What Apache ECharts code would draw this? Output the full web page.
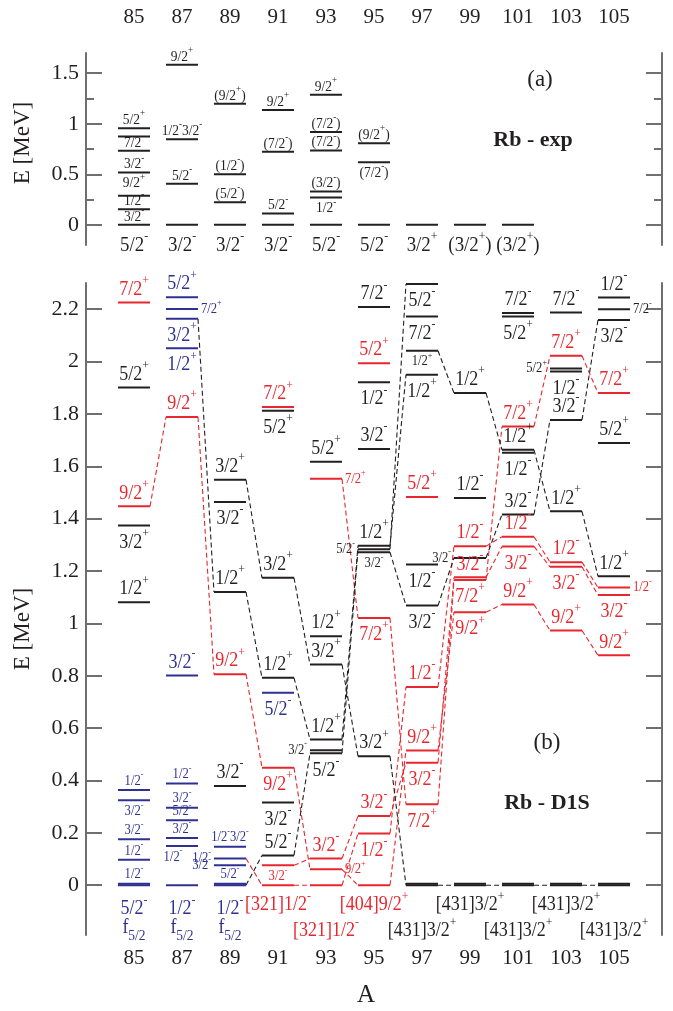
<!DOCTYPE html>
<html><head><meta charset="utf-8">
<script src="https://cdn.jsdelivr.net/npm/echarts@6/dist/echarts.min.js"></script>
<style>html,body{margin:0;padding:0;background:#fff}#c{width:673px;height:1011px}</style>
</head><body><div id="c"></div>
<script>
// ---------------- data ----------------
const massNumbers = [85, 87, 89, 91, 93, 95, 97, 99, 101, 103, 105];
const expTicks = [0, 0.5, 1, 1.5];
const expMinorTicks = [0.25, 0.75, 1.25];
const d1sTicks = [0, 0.2, 0.4, 0.6, 0.8, 1, 1.2, 1.4, 1.6, 1.8, 2, 2.2];

// panel (a): experimental levels [A, E]
const expLevels = [
  [85,0],[85,0.155],[85,0.287],[85,0.518],[85,0.732],[85,0.874],[85,0.956],
  [87,0],[87,0.406],[87,0.847],[87,1.583],
  [89,0],[89,0.224],[89,0.501],[89,1.197],
  [91,0],[91,0.112],[91,0.722],[91,1.137],
  [93,0],[93,0.270],[93,0.330],[93,0.735],[93,0.917],[93,1.286],
  [95,0],[95,0.620],[95,0.808],
  [97,0],[99,0],[101,0]
];
// labels [A, E of level, text, side]
const expLabels = [
  [85,0.956,'5/2^+','a'],[85,0.732,'7/2^-','a'],[85,0.518,'3/2^-','a'],[85,0.518,'9/2^+','b'],
  [85,0.155,'1/2^-','a'],[85,0,'3/2^-','a'],[85,0,'5/2^-','g'],
  [87,1.583,'9/2^+','a'],[87,0.847,'1/2^-3/2^-','a'],[87,0.406,'5/2^-','a'],[87,0,'3/2^-','g'],
  [89,1.197,'(9/2^+)','a'],[89,0.501,'(1/2^-)','a'],[89,0.224,'(5/2^-)','a'],[89,0,'3/2^-','g'],
  [91,1.137,'9/2^+','a'],[91,0.722,'(7/2^-)','a'],[91,0.112,'5/2^-','a'],[91,0,'3/2^-','g'],
  [93,1.286,'9/2^+','a'],[93,0.917,'(7/2^-)','a'],[93,0.735,'(7/2^-)','a'],[93,0.330,'(3/2^-)','a'],
  [93,0.270,'1/2^-','b'],[93,0,'5/2^-','g'],
  [95,0.808,'(9/2^+)','a'],[95,0.620,'(7/2^-)','b'],[95,0,'5/2^-','g'],
  [97,0,'3/2^+','g'],[99,0,'(3/2^+)','g'],[101,0,'(3/2^+)','g']
];

// panel (b): D1S levels [A, E, colour group]
const d1sLevels = [
  [85,2.226,'r'],[85,1.901,'k'],[85,1.447,'r'],[85,1.374,'k'],[85,1.081,'k'],
  [85,0.364,'b'],[85,0.325,'b'],[85,0.176,'b'],[85,0.097,'b'],[85,0,'b'],[85,0.006,'b'],
  [87,2.246,'b'],[87,2.201,'b'],[87,2.163,'b'],[87,2.051,'b'],[87,1.788,'r'],[87,0.801,'b'],
  [87,0.389,'b'],[87,0.296,'b'],[87,0.248,'b'],[87,0.180,'b'],[87,0.150,'b'],[87,0,'b'],
  [89,1.549,'k'],[89,1.464,'k'],[89,1.120,'k'],[89,0.806,'r'],[89,0.379,'k'],
  [89,0.147,'b'],[89,0.102,'b'],[89,0.076,'b'],[89,0,'b'],[89,0.006,'b'],
  [91,1.826,'r'],[91,1.812,'k'],[91,1.174,'k'],[91,0.792,'k'],[91,0.735,'b'],[91,0.449,'r'],
  [91,0.316,'k'],[91,0.114,'k'],[91,0.076,'r'],[91,0,'r'],
  [93,1.617,'k'],[93,1.552,'r'],[93,0.951,'k'],[93,0.843,'k'],[93,0.557,'k'],[93,0.516,'k'],
  [93,0.504,'k'],[93,0.102,'r'],[93,0.061,'r'],[93,0,'r'],
  [95,2.208,'k'],[95,1.994,'r'],[95,1.921,'k'],[95,1.666,'k'],[95,1.297,'k'],[95,1.283,'k'],
  [95,1.272,'k'],[95,1.021,'r'],[95,0.493,'k'],[95,0.264,'r'],[95,0.198,'r'],[95,0,'r'],
  [97,2.296,'k'],[97,2.172,'k'],[97,2.041,'k'],[97,1.950,'k'],[97,1.483,'r'],[97,1.225,'k'],
  [97,1.068,'k'],[97,0.757,'r'],[97,0.515,'r'],[97,0.468,'r'],[97,0.309,'r'],[97,0,'k'],[97,0.006,'k'],
  [99,1.880,'k'],[99,1.479,'k'],[99,1.295,'r'],[99,1.250,'k'],[99,1.176,'r'],[99,1.166,'r'],
  [99,1.043,'r'],[99,0,'k'],[99,0.006,'k'],
  [101,2.185,'k'],[101,2.172,'k'],[101,1.752,'r'],[101,1.663,'k'],[101,1.652,'k'],[101,1.416,'k'],
  [101,1.331,'r'],[101,1.294,'r'],[101,1.072,'r'],[101,0,'k'],[101,0.006,'k'],
  [103,2.187,'k'],[103,2.022,'r'],[103,1.973,'k'],[103,1.962,'k'],[103,1.777,'k'],[103,1.428,'k'],
  [103,1.234,'r'],[103,1.216,'r'],[103,0.973,'r'],[103,0,'k'],[103,0.006,'k'],
  [105,2.245,'k'],[105,2.200,'k'],[105,2.159,'k'],[105,1.880,'r'],[105,1.689,'k'],[105,1.180,'k'],
  [105,1.137,'r'],[105,1.108,'r'],[105,0.878,'r'],[105,0,'k'],[105,0.006,'k']
];
// dashed connections [A1, E1, A2, E2, colour group]
const d1sLinks = [
  [85,1.447,87,1.788,'r'],[87,1.788,89,0.806,'r'],[89,0.806,91,0.449,'r'],[91,0.449,93,0.061,'r'],
  [93,0.061,95,0,'r'],[95,0,97,0.515,'r'],[97,0.515,99,1.043,'r'],[99,1.043,101,1.072,'r'],
  [101,1.072,103,0.973,'r'],[103,0.973,105,0.878,'r'],
  [89,0.102,91,0,'r'],[91,0,93,0,'r'],[93,0,95,0.198,'r'],[95,0.198,97,0.757,'r'],
  [97,0.757,99,1.295,'r'],[99,1.295,101,1.331,'r'],[101,1.331,103,1.234,'r'],[103,1.234,105,1.137,'r'],
  [91,0.076,93,0.102,'r'],[93,0.102,95,0.264,'r'],[95,0.264,97,0.468,'r'],[97,0.468,99,1.176,'r'],
  [99,1.176,101,1.294,'r'],[101,1.294,103,1.216,'r'],[103,1.216,105,1.108,'r'],
  [93,1.552,95,1.021,'r'],[95,1.021,97,0.309,'r'],[97,0.309,99,1.166,'r'],[99,1.166,101,1.752,'r'],
  [101,1.752,103,2.022,'r'],[103,2.022,105,1.880,'r'],
  [87,2.163,89,1.120,'k'],[89,1.120,91,0.792,'k'],[91,0.792,93,0.557,'k'],[93,0.557,95,1.297,'k'],
  [95,1.297,97,1.950,'k'],
  [89,1.549,91,1.174,'k'],[91,1.174,93,0.843,'k'],[93,0.843,95,0.493,'k'],[95,0.493,97,0,'k'],
  [97,0,99,0,'k'],[99,0,101,0,'k'],[101,0,103,0,'k'],[103,0,105,0,'k'],
  [89,0,91,0.114,'k'],[91,0.114,93,0.504,'k'],[93,0.504,95,1.283,'k'],[95,1.283,97,2.296,'k'],
  [95,1.272,97,1.068,'k'],[97,1.068,99,1.250,'k'],[99,1.250,101,1.416,'k'],[101,1.416,103,1.777,'k'],
  [103,1.777,105,2.159,'k'],
  [97,2.041,99,1.880,'k'],[99,1.880,101,1.663,'k'],[101,1.663,103,1.428,'k'],[103,1.428,105,1.180,'k']
];
// labels [A, E of level, text, side, dx]
const d1sLabels = [
  [85,2.226,'7/2^+','a'],[85,1.901,'5/2^+','a'],[85,1.447,'9/2^+','a'],[85,1.374,'3/2^+','b'],
  [85,1.081,'1/2^+','a'],[85,0.364,'1/2^-','as'],[85,0.325,'3/2^-','bs'],[85,0.176,'3/2^-','as'],
  [85,0.097,'1/2^-','as'],[85,0.006,'1/2^-','as'],[85,0,'5/2^-','gb'],[85,0,'f_{5/2}','gf'],
  [87,2.246,'5/2^+','a'],[87,2.201,'7/2^+','rs'],[87,2.163,'3/2^+','b'],[87,2.051,'1/2^+','b'],
  [87,1.788,'9/2^+','a'],[87,0.801,'3/2^-','a'],[87,0.389,'1/2^-','as'],[87,0.296,'3/2^-','as'],
  [87,0.248,'5/2^-','as'],[87,0.180,'3/2^-','as'],[87,0.150,'1/2^-','bs',-9],
  [87,0,'1/2^-','gb'],[87,0,'f_{5/2}','gf'],
  [89,1.549,'3/2^+','a'],[89,1.464,'3/2^-','b'],[89,1.120,'1/2^+','a'],[89,0.806,'9/2^+','a'],
  [89,0.379,'3/2^-','a'],[89,0.147,'1/2^-3/2^-','as'],[89,0.102,'1/2^-','ls'],[89,0.076,'3/2^-','ls'],
  [89,0.006,'5/2^-','as'],[89,0,'1/2^-','gb'],[89,0,'f_{5/2}','gf'],
  [91,1.826,'7/2^+','a'],[91,1.812,'5/2^+','b'],[91,1.174,'3/2^+','a'],[91,0.792,'1/2^+','a'],
  [91,0.735,'5/2^-','b'],[91,0.449,'9/2^+','b'],[91,0.316,'3/2^-','b'],[91,0.114,'5/2^-','a'],
  [91,0.076,'3/2^-','bs'],[91,0,'[321]1/2^-','g1'],
  [93,1.617,'5/2^+','a'],[93,1.552,'7/2^+','rs'],[93,0.951,'1/2^+','a'],[93,0.843,'3/2^+','a'],
  [93,0.557,'1/2^+','a'],[93,0.516,'3/2^-','ls'],[93,0.504,'5/2^-','b'],[93,0.102,'3/2^-','a'],
  [93,0.061,'9/2^+','rs'],[93,0,'[321]1/2^-','g2'],
  [95,2.208,'7/2^-','a'],[95,1.994,'5/2^+','a'],[95,1.921,'1/2^-','b'],[95,1.666,'3/2^-','a'],
  [95,1.297,'1/2^+','a'],[95,1.283,'5/2^-','ls'],[95,1.272,'3/2^-','bs'],[95,1.021,'7/2^+','b'],
  [95,0.493,'3/2^+','a'],[95,0.264,'3/2^-','a'],[95,0.198,'1/2^-','b'],[95,0,'[404]9/2^+','g1'],
  [97,2.296,'5/2^-','b'],[97,2.172,'7/2^-','b'],[97,2.041,'1/2^+','bs'],[97,1.950,'1/2^+','b'],
  [97,1.483,'5/2^+','a'],[97,1.225,'1/2^-','b'],[97,1.068,'3/2^-','b'],[97,0.757,'1/2^-','a'],
  [97,0.515,'9/2^+','a'],[97,0.468,'3/2^-','b'],[97,0.309,'7/2^+','b'],[97,0,'[431]3/2^+','g2'],
  [99,1.880,'1/2^+','a'],[99,1.479,'1/2^-','a'],[99,1.295,'1/2^-','a'],[99,1.250,'3/2^-','ls'],
  [99,1.176,'3/2^-','a'],[99,1.166,'7/2^+','b'],[99,1.043,'9/2^+','b'],[99,0,'[431]3/2^+','g1'],
  [101,2.185,'7/2^-','a'],[101,2.172,'5/2^+','b'],[101,1.752,'7/2^+','a'],[101,1.663,'1/2^+','a'],
  [101,1.652,'1/2^-','b'],[101,1.416,'3/2^-','a'],[101,1.331,'1/2^-','a'],[101,1.294,'3/2^-','b'],
  [101,1.072,'9/2^+','a'],[101,0,'[431]3/2^+','g2'],
  [103,2.187,'7/2^-','a'],[103,2.022,'7/2^+','a'],[103,1.973,'5/2^+','ls'],[103,1.962,'1/2^-','b'],
  [103,1.777,'3/2^-','a'],[103,1.428,'1/2^+','a'],[103,1.234,'1/2^-','a'],[103,1.216,'3/2^-','b'],
  [103,0.973,'9/2^+','a'],[103,0,'[431]3/2^+','g1'],
  [105,2.245,'1/2^-','a'],[105,2.200,'7/2^-','rs'],[105,2.159,'3/2^-','b'],[105,1.880,'7/2^+','a'],
  [105,1.689,'5/2^+','a'],[105,1.180,'1/2^+','a'],[105,1.137,'1/2^-','rs'],[105,1.108,'3/2^-','b'],
  [105,0.878,'9/2^+','a'],[105,0,'[431]3/2^+','g2']
];

// ---------------- styling ----------------
const SERIF = "'Liberation Serif','Times New Roman',serif";
const COLORS = { k: '#231f20', r: '#e8262d', b: '#2e3192' };
const AX = '#6f6f6f';
const HW = 0.667;      // half width of a level bar, in units of A
const TEXT_SX = 0.9;   // horizontal squeeze of level labels (reference type is narrow)

function richClass(F, f, P, fb, Pb) {
  return {
    n: { fontSize: F, fontFamily: SERIF },
    s: { fontSize: f, fontFamily: SERIF, padding: [0, 0, P, 0] },
    b: { fontSize: fb || f, fontFamily: SERIF, padding: [Pb || P, 0, 0, 0] }
  };
}
const RICH = {
  N: richClass(20, 13, 18, 15, 16),
  S: richClass(14, 9, 12),
  T: richClass(15, 10, 13),
  G: richClass(21, 13, 18)
};
const sidesTop = { a: { dy: -8, cls: 'T' }, b: { dy: 11, cls: 'T' }, g: { dy: 21, cls: 'G' } };
const sidesBot = {
  a: { dy: -13, cls: 'N' }, b: { dy: 17, cls: 'N' },
  as: { dy: -9, cls: 'S' }, bs: { dy: 11, cls: 'S' },
  ls: { dy: 0, h: 'l', cls: 'S' }, rs: { dy: 0, h: 'r', cls: 'S' },
  g1: { dy: 20, cls: 'N' }, g2: { dy: 46, cls: 'N' },
  gb: { dy: 24, cls: 'N' }, gf: { dy: 43, cls: 'N' }
};

function toRich(t) {
  let out = '', buf = '';
  const flush = () => { if (buf) { out += '{n|' + buf + '}'; buf = ''; } };
  for (let i = 0; i < t.length; i++) {
    const ch = t[i];
    if (ch === '^') { flush(); out += '{s|' + t[i + 1] + '}'; i++; }
    else if (ch === '_' && t[i + 1] === '{') { flush(); const j = t.indexOf('}', i); out += '{b|' + t.slice(i + 2, j) + '}'; i = j; }
    else buf += ch;
  }
  flush();
  return out;
}
function colorOf(levels, a, e) {
  let best = null, bd = 1e9;
  levels.forEach(l => { if (l[0] === a) { const d = Math.abs(l[1] - e); if (d < bd) { bd = d; best = l; } } });
  return COLORS[(best && best[2]) || 'k'];
}

function levelSeries(levels, xi, yi) {
  return {
    type: 'custom', xAxisIndex: xi, yAxisIndex: yi, clip: false, silent: true, animation: false, z: 4,
    data: levels.map(l => [l[0], l[1]]),
    renderItem(params, api) {
      const l = levels[params.dataIndex];
      const p1 = api.coord([l[0] - HW, l[1]]), p2 = api.coord([l[0] + HW, l[1]]);
      return { type: 'line', shape: { x1: p1[0], y1: p1[1], x2: p2[0], y2: p2[1] },
        style: { stroke: COLORS[l[2] || 'k'], lineWidth: 2 } };
    }
  };
}
function linkSeries(links, xi, yi) {
  return {
    type: 'custom', xAxisIndex: xi, yAxisIndex: yi, clip: false, silent: true, animation: false, z: 3,
    data: links.map(l => [l[0], l[1], l[2], l[3]]),
    encode: { x: [0, 2], y: [1, 3] },
    renderItem(params, api) {
      const l = links[params.dataIndex];
      const p1 = api.coord([l[0] + HW, l[1]]), p2 = api.coord([l[2] - HW, l[3]]);
      return { type: 'line', shape: { x1: p1[0], y1: p1[1], x2: p2[0], y2: p2[1] },
        style: { stroke: COLORS[l[4]], lineWidth: 1.1, lineDash: [5, 3] } };
    }
  };
}
function labelSeries(labels, levels, sides, xi, yi) {
  return {
    type: 'custom', xAxisIndex: xi, yAxisIndex: yi, clip: false, silent: true, animation: false, z: 5,
    data: labels.map(l => [l[0], l[1]]),
    renderItem(params, api) {
      const l = labels[params.dataIndex];
      const conf = sides[l[3]];
      const c = api.coord([l[0], l[1]]);
      const half = api.coord([l[0] + HW, l[1]])[0] - c[0];
      let x = c[0], align = 'center';
      if (conf.h === 'l') { x = c[0] - half - 3; align = 'right'; }
      if (conf.h === 'r') { x = c[0] + half + 3; align = 'left'; }
      x += (l[4] || 0);
      return { type: 'text', x: x, y: c[1] + conf.dy, scaleX: TEXT_SX, scaleY: 1,
        style: { text: toRich(l[2]), rich: RICH[conf.cls], align: align, verticalAlign: 'middle',
          fill: colorOf(levels, l[0], l[1]), fontFamily: SERIF, fontSize: 14 } };
    }
  };
}

function yAx(grid, min, max, pos, ticks, len, showLine, labels) {
  return {
    type: 'value', gridIndex: grid, min: min, max: max, position: pos,
    axisLine: { show: showLine, onZero: false, lineStyle: { color: AX, width: 2 } },
    axisTick: { show: true, inside: true, length: len, customValues: ticks, lineStyle: { color: AX, width: 2 } },
    axisLabel: labels ? { show: true, customValues: ticks, fontSize: 22, fontFamily: SERIF, color: '#231f20', margin: 7 }
                      : { show: false },
    splitLine: { show: false }
  };
}
function xAx(grid, pos, margin) {
  return {
    type: 'value', gridIndex: grid, min: 83, max: 107, interval: 2, position: pos,
    axisLine: { show: false }, axisTick: { show: false }, splitLine: { show: false },
    axisLabel: { margin: margin, fontSize: 21, fontFamily: SERIF, color: '#231f20',
      formatter: v => (massNumbers.indexOf(v) >= 0 ? String(v) : '') }
  };
}

const chart = echarts.init(document.getElementById('c'), null, { renderer: 'canvas' });
chart.setOption({
  animation: false,
  backgroundColor: '#ffffff',
  grid: [
    { left: 86, right: 11, top: 53, height: 192 },
    { left: 86, right: 11, top: 283, height: 652 }
  ],
  xAxis: [xAx(0, 'top', 25), xAx(1, 'bottom', 13)],
  yAxis: [
    yAx(0, -0.2, 1.7, 'left', expTicks, 16, true, true),
    yAx(0, -0.2, 1.7, 'left', expMinorTicks, 8, false, false),
    yAx(0, -0.2, 1.7, 'right', expTicks, 16, true, false),
    yAx(0, -0.2, 1.7, 'right', expMinorTicks, 8, false, false),
    yAx(1, -0.19, 2.3, 'left', d1sTicks, 16, true, true),
    yAx(1, -0.19, 2.3, 'right', d1sTicks, 16, true, false)
  ],
  series: [
    levelSeries(expLevels, 0, 0),
    labelSeries(expLabels, expLevels, sidesTop, 0, 0),
    linkSeries(d1sLinks, 1, 4),
    levelSeries(d1sLevels, 1, 4),
    labelSeries(d1sLabels, d1sLevels, sidesBot, 1, 4)
  ],
  graphic: [
    { type: 'text', x: 23, y: 143, rotation: Math.PI / 2, style: { text: 'E [MeV]', font: "23px " + SERIF, fill: '#231f20', align: 'center', verticalAlign: 'middle' } },
    { type: 'text', x: 23, y: 629, rotation: Math.PI / 2, style: { text: 'E [MeV]', font: "23px " + SERIF, fill: '#231f20', align: 'center', verticalAlign: 'middle' } },
    { type: 'text', x: 366, y: 995, style: { text: 'A', font: "25px " + SERIF, fill: '#231f20', align: 'center', verticalAlign: 'middle' } },
    { type: 'text', x: 540, y: 80, style: { text: '(a)', font: "23px " + SERIF, fill: '#231f20', align: 'center', verticalAlign: 'middle' } },
    { type: 'text', x: 533, y: 140, style: { text: 'Rb - exp', font: "bold 22px " + SERIF, fill: '#231f20', align: 'center', verticalAlign: 'middle' } },
    { type: 'text', x: 547, y: 743, style: { text: '(b)', font: "23px " + SERIF, fill: '#231f20', align: 'center', verticalAlign: 'middle' } },
    { type: 'text', x: 547, y: 803, style: { text: 'Rb - D1S', font: "bold 22px " + SERIF, fill: '#231f20', align: 'center', verticalAlign: 'middle' } }
  ]
});
</script>
</body></html>
